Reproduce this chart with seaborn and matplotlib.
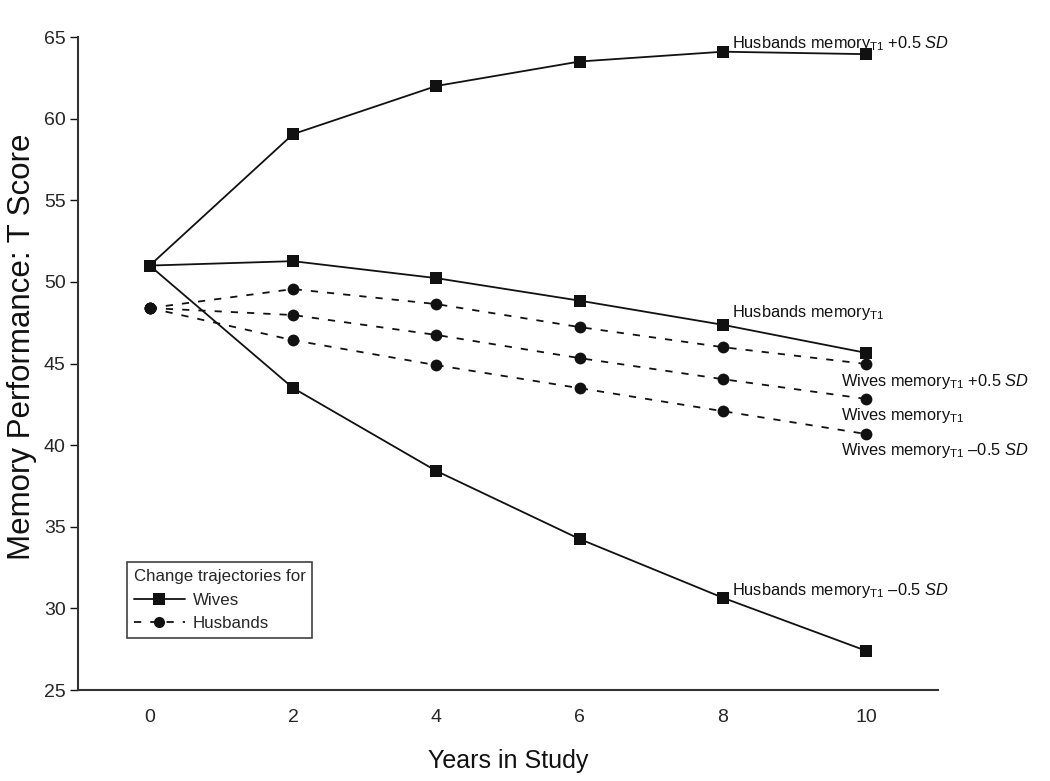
import matplotlib
matplotlib.use("Agg")
import matplotlib.pyplot as plt
from matplotlib.lines import Line2D
import numpy as np
import pandas as pd
import seaborn as sns

years = [0, 2, 4, 6, 8, 10]

# solid lines (squares) - "wives" trajectories
wives_high = [51.0, 59.05, 62.0, 63.5, 64.1, 63.95]
wives_mid = [51.0, 51.27, 50.23, 48.85, 47.37, 45.65]
wives_low = [51.0, 43.5, 38.42, 34.25, 30.65, 27.4]

# dashed lines (circles) - "husbands" trajectories
husb_high = [48.4, 49.56, 48.64, 47.23, 46.0, 44.97]
husb_mid = [48.4, 47.97, 46.75, 45.33, 44.04, 42.83]
husb_low = [48.4, 46.43, 44.9, 43.49, 42.08, 40.68]

x_major = [0, 2, 4, 6, 8, 10]
x_minor = [-1, 1, 3, 5, 7, 9, 11]
y_ticks = [25, 30, 35, 40, 45, 50, 55, 60, 65]

sns.set_theme(style="white")
plt.rcParams["font.family"] = ["Liberation Sans", "DejaVu Sans"]
plt.rcParams["mathtext.fontset"] = "custom"
plt.rcParams["mathtext.rm"] = "Liberation Sans"
plt.rcParams["mathtext.it"] = "Liberation Sans:italic"

ink = "#111111"

fig = plt.figure(figsize=(10.5, 7.81), dpi=100)
ax = fig.add_axes([0.0743, 0.1165, 0.8190, 0.8361])

rows = []
for name, vals in [("wh", wives_high), ("wm", wives_mid), ("wl", wives_low)]:
    for x, v in zip(years, vals):
        rows.append({"year": x, "score": v, "line": name, "group": "Wives"})
for name, vals in [("hh", husb_high), ("hm", husb_mid), ("hl", husb_low)]:
    for x, v in zip(years, vals):
        rows.append({"year": x, "score": v, "line": name, "group": "Husbands"})
df = pd.DataFrame(rows)

for name, sub in df.groupby("line"):
    wives = sub["group"].iloc[0] == "Wives"
    sns.lineplot(data=sub, x="year", y="score", ax=ax, color=ink,
                 linewidth=1.3, linestyle="-" if wives else (0, (4, 5)),
                 marker="s" if wives else "o", markersize=9 if wives else 8.5,
                 markeredgewidth=0, legend=False, zorder=3)

ax.set_xlim(-1, 11)
ax.set_ylim(25, 65)
ax.set_xticks(x_major)
ax.set_xticklabels([str(v) for v in x_major], fontsize=14)
ax.set_xticks(x_minor, minor=True)
ax.tick_params(axis="x", which="major", length=0, pad=14)
ax.tick_params(axis="x", which="minor", length=8, width=1, color=ink, direction="out")
ax.set_yticks(y_ticks)
ax.set_yticklabels([str(v) for v in y_ticks], fontsize=14)
ax.tick_params(axis="y", length=6, width=1, color=ink, direction="out", left=True, pad=3)
for side in ["top", "right"]:
    ax.spines[side].set_visible(False)
for side in ["left", "bottom"]:
    ax.spines[side].set_color("#333333")
    ax.spines[side].set_linewidth(1.5)

ax.set_xlabel("Years in Study", fontsize=18, color=ink, labelpad=16)
ax.set_ylabel("Memory Performance: T Score", fontsize=22.5, color=ink)
ax.yaxis.set_label_coords(-0.048, 0.525)

fs = 11.8
ax.text(8.13, 64.6, r"Husbands memory$_{\mathrm{T1}}$ +0.5 $SD$", fontsize=fs, color=ink, va="center")
ax.text(8.13, 48.1, r"Husbands memory$_{\mathrm{T1}}$", fontsize=fs, color=ink, va="center")
ax.text(9.65, 43.9, r"Wives memory$_{\mathrm{T1}}$ +0.5 $SD$", fontsize=fs, color=ink, va="center")
ax.text(9.65, 41.8, r"Wives memory$_{\mathrm{T1}}$", fontsize=fs, color=ink, va="center")
ax.text(9.65, 39.7, "Wives memory$_{\\mathrm{T1}}$ \u20130.5 $SD$", fontsize=fs, color=ink, va="center")
ax.text(8.13, 31.1, "Husbands memory$_{\\mathrm{T1}}$ \u20130.5 $SD$", fontsize=fs, color=ink, va="center")

handles = [
    Line2D([], [], color=ink, linewidth=1.3, marker="s", markersize=9, markeredgewidth=0),
    Line2D([], [], color=ink, linewidth=1.3, linestyle=(0, (4, 5)), marker="o", markersize=8, markeredgewidth=0),
]
leg = ax.legend(handles, ["Wives", "Husbands"], title="Change trajectories for",
                loc="lower left", bbox_to_anchor=(0.057, 0.08), fontsize=12.2,
                title_fontsize=12.2, frameon=True, fancybox=False, handlelength=3.0,
                handletextpad=0.5, borderpad=0.4, labelspacing=0.5, borderaxespad=0,
                alignment="left")
leg.get_frame().set_edgecolor(ink)
leg.get_frame().set_linewidth(1.2)

fig.savefig("out.png", dpi=100)
